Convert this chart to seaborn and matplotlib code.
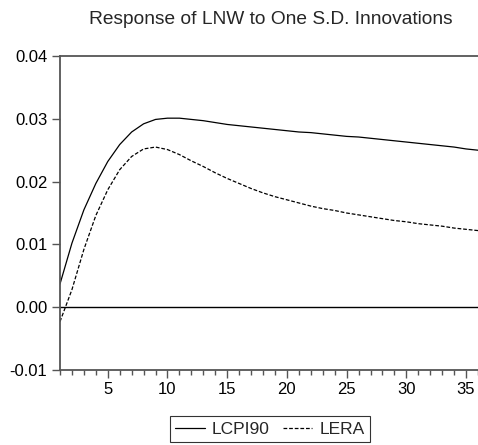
import matplotlib
matplotlib.use("Agg")
import matplotlib.pyplot as plt
import seaborn as sns
import pandas as pd
from matplotlib.ticker import MultipleLocator
from matplotlib.lines import Line2D

periods = list(range(1, 37))
lcpi90 = [0.0037, 0.0102, 0.0155, 0.0197, 0.0232, 0.0259, 0.0279, 0.0292, 0.0299, 0.0301,
          0.0301, 0.0299, 0.0297, 0.0294, 0.0291, 0.0289, 0.0287, 0.0285, 0.0283, 0.0281,
          0.0279, 0.0278, 0.0276, 0.0274, 0.0272, 0.0271, 0.0269, 0.0267, 0.0265, 0.0263,
          0.0261, 0.0259, 0.0257, 0.0255, 0.0252, 0.0250]
lera = [-0.0023, 0.0028, 0.0092, 0.0146, 0.0187, 0.0219, 0.0240, 0.0252, 0.0255, 0.0251,
        0.0243, 0.0233, 0.0224, 0.0214, 0.0205, 0.0197, 0.0189, 0.0182, 0.0176, 0.0171,
        0.0166, 0.0161, 0.0157, 0.0154, 0.0150, 0.0147, 0.0144, 0.0141, 0.0138, 0.0136,
        0.0133, 0.0131, 0.0129, 0.0126, 0.0124, 0.0122]
series_names = ["LCPI90", "LERA"]
title = "Response of LNW to One S.D. Innovations"
yticks = [-0.01, 0.00, 0.01, 0.02, 0.03, 0.04]
ytick_labels = ["-0.01", "0.00", "0.01", "0.02", "0.03", "0.04"]
xticks = [5, 10, 15, 20, 25, 30, 35]

sns.set_theme(style="ticks")
plt.rcParams['font.family'] = ['Liberation Sans', 'DejaVu Sans']

df = pd.DataFrame({
    "period": periods * 2,
    "value": lcpi90 + lera,
    "series": [series_names[0]] * len(periods) + [series_names[1]] * len(periods),
})

fig = plt.figure(figsize=(4.78, 4.45), dpi=100)
ax = fig.add_axes([60/478, 1 - 370/445, 1 - 60/478, (370 - 56)/445])

ax.axhline(0, color="black", lw=1.0, zorder=1)
sns.lineplot(data=df, x="period", y="value", hue="series", style="series",
             palette=["black", "black"], dashes=[(None, None), (3, 1.5)],
             linewidth=0.9, ax=ax, legend=False)

ax.set_xlim(1, 36)
ax.set_ylim(-0.01, 0.04)
ax.set_yticks(yticks)
ax.set_yticklabels(ytick_labels)
ax.set_xticks(xticks)
ax.xaxis.set_minor_locator(MultipleLocator(1))
ax.tick_params(axis="both", which="major", direction="out", length=6, width=1, color="#555555",
               labelsize=12, labelcolor="black", pad=3)
ax.tick_params(axis="x", which="minor", direction="out", length=3.5, width=1, color="#555555")
ax.set_xlabel("")
ax.set_ylabel("")
for s in ["left", "bottom", "top"]:
    ax.spines[s].set_color("#555555")
    ax.spines[s].set_linewidth(1.3)
ax.spines["right"].set_visible(False)
ax.spines["top"].set_visible(True)

fig.text(271/478, 1 - 19/445, title, ha="center", va="center", fontsize=13.8)

handles = [Line2D([], [], color="black", lw=0.9),
           Line2D([], [], color="black", lw=0.9, dashes=(3, 1.5))]
leg = fig.legend(handles, series_names, loc="center", bbox_to_anchor=(270/478, 1 - 429/445),
                 ncol=2, frameon=True, fancybox=False, edgecolor="black", fontsize=12.5,
                 handlelength=1.7, handletextpad=0.4, columnspacing=0.75, borderpad=0.3,
                 borderaxespad=0)
leg.get_frame().set_linewidth(0.8)

fig.savefig("out.png", dpi=100)
